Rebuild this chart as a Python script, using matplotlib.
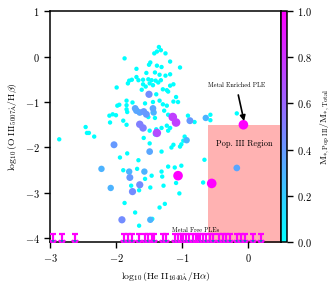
import numpy as np
import matplotlib
matplotlib.use('Agg')
import matplotlib.pyplot as plt

plt.rcParams['font.family'] = 'serif'
plt.rcParams['font.serif'] = ['cmr10']
plt.rcParams['mathtext.fontset'] = 'cm'
plt.rcParams['axes.formatter.use_mathtext'] = True
plt.rcParams['axes.unicode_minus'] = True

# log10(HeII 1640 / Halpha), log10(OIII 5007 / Hbeta), Pop III mass fraction
he2_ha = [-1.35, -1.42, -1.38, -1.32, -1.25, -1.87, -1.48, -1.50, -1.18, -1.03,
          -1.38, -1.31, -1.69, -1.54, -1.41, -1.34, -1.25, -1.18, -1.76, -1.69,
          -1.66, -1.59, -1.51, -1.46, -1.40, -1.36, -1.32, -1.82, -1.59, -1.55,
          -1.49, -1.44, -1.18, -1.13, -1.29, -1.23, -1.21, -1.09, -1.06, -1.61,
          -1.50, -1.39, -1.84, -1.84, -1.75, -1.56, -1.44, -1.34, -1.29, -1.23,
          -1.13, -1.71, -1.69, -1.64, -1.58, -1.54, -1.44, -1.43, -1.83, -1.51,
          -1.41, -1.27, -1.21, -1.14, -1.09, -0.91, -0.88, -0.81, -1.89, -1.84,
          -1.64, -1.59, -1.49, -1.39, -1.31, -1.23, -1.18, -1.21, -1.99, -1.80,
          -1.95, -1.84, -2.86, -2.46, -2.44, -2.41, -2.33, -2.10, -2.05, -2.00,
          -2.09, -1.98, -1.38, -1.41, -1.58, -1.49, -2.03, -1.49, -1.31, -1.83,
          -1.94, -1.66, -2.22, -1.89, -1.80, -1.79, -1.68, -1.57, -1.46, -1.31,
          -1.30, -1.56, -2.08, -1.64, -1.75, -1.77, -1.65, -1.48, -1.28, -1.87,
          -1.71, -1.34, -1.26, -1.91, -1.65, -1.48, -1.45, -0.64, -0.57, -0.57,
          -0.17, -0.96, -0.98, -1.01, -1.03, -0.93, -1.13, -1.16, -0.66, -1.21,
          -1.11, -1.01, -1.09, -0.68, -0.17, -1.04, -1.06, -0.55, -0.07]
o3_hb = [0.21, 0.07, 0.11, 0.14, 0.07, -0.04, -0.13, -0.18, -0.11, -0.24,
         -0.20, -0.23, -0.27, -0.36, -0.35, -0.40, -0.42, -0.39, -0.51, -0.45,
         -0.52, -0.51, -0.50, -0.52, -0.53, -0.57, -0.52, -0.59, -0.61, -0.66,
         -0.59, -0.63, -0.64, -0.61, -0.72, -0.74, -0.77, -0.89, -1.00, -0.73,
         -0.83, -0.83, -0.97, -1.07, -1.01, -1.03, -1.00, -0.97, -1.05, -1.08,
         -0.99, -1.14, -1.19, -1.23, -1.21, -1.27, -1.14, -1.23, -1.22, -1.33,
         -1.35, -1.19, -1.28, -1.33, -1.45, -1.30, -1.41, -1.44, -1.41, -1.50,
         -1.49, -1.57, -1.63, -1.60, -1.57, -1.52, -1.57, -1.63, -0.68, -0.53,
         -1.06, -1.16, -1.82, -1.55, -1.68, -1.68, -1.76, -1.30, -1.27, -1.29,
         -1.45, -1.08, -1.68, -1.71, -1.79, -1.91, -1.94, -2.09, -2.09, -2.13,
         -2.22, -2.28, -2.47, -2.50, -2.53, -2.66, -2.47, -2.53, -2.62, -2.53,
         -2.64, -2.69, -2.89, -2.82, -2.97, -2.84, -2.94, -2.88, -2.84, -3.22,
         -3.43, -3.32, -3.24, -3.59, -3.72, -3.59, -3.57, -1.35, -1.28, -1.40,
         -1.25, -1.76, -1.85, -1.93, -1.98, -1.84, -1.94, -2.00, -2.27, -2.42,
         -2.44, -2.40, -2.78, -2.77, -2.45, -3.01, -2.62, -2.79, -1.50]
pop3_frac = [0.0, 0.0, 0.0, 0.0, 0.0, 0.0, 0.0, 0.0, 0.0, 0.0,
             0.0, 0.0, 0.0, 0.0, 0.0, 0.0, 0.0, 0.0, 0.0, 0.0,
             0.0, 0.0, 0.0, 0.0, 0.0, 0.0, 0.0, 0.0, 0.0, 0.0,
             0.0, 0.0, 0.0, 0.0, 0.0, 0.0, 0.0, 0.0, 0.0, 0.0,
             0.45, 0.0, 0.0, 0.0, 0.0, 0.0, 0.0, 0.0, 0.0, 0.0,
             0.0, 0.35, 0.35, 0.35, 0.4, 0.4, 0.35, 0.3, 0.0, 0.0,
             0.0, 0.0, 0.0, 0.75, 0.75, 0.0, 0.4, 0.0, 0.0, 0.0,
             0.5, 0.5, 0.0, 0.0, 0.0, 0.0, 0.0, 0.0, 0.0, 0.0,
             0.0, 0.0, 0.0, 0.0, 0.0, 0.0, 0.0, 0.0, 0.0, 0.0,
             0.0, 0.0, 0.7, 0.0, 0.0, 0.0, 0.4, 0.35, 0.0, 0.0,
             0.0, 0.0, 0.3, 0.0, 0.3, 0.4, 0.0, 0.3, 0.0, 0.0,
             0.0, 0.0, 0.3, 0.45, 0.45, 0.0, 0.0, 0.0, 0.0, 0.0,
             0.0, 0.0, 0.0, 0.45, 0.0, 0.3, 0.0, 0.3, 0.0, 0.0,
             0.0, 0.0, 0.0, 0.0, 0.0, 0.3, 0.0, 0.0, 0.0, 0.0,
             0.0, 0.0, 0.0, 0.0, 0.35, 0.0, 1.0, 1.0, 1.0]

# metal free PLEs: only HeII measured, OIII is an upper limit
free_he2_ha = [-2.95, -2.82, -2.62, -1.88, -1.82, -1.75, -1.65, -1.56, -1.51, -1.45,
               -1.42, -1.29, -1.25, -1.11, -1.06, -1.02, -0.98, -0.94, -0.89, -0.83,
               -0.79, -0.76, -0.72, -0.68, -0.63, -0.58, -0.53, -0.44, -0.38, -0.33,
               -0.28, -0.17, -0.10, -0.05, 0.08, 0.19]
free_o3_limit = -4.0

x = np.array(he2_ha)
y = np.array(o3_hb)
c = np.array(pop3_frac)
order = np.argsort(c)

fig = plt.figure(figsize=(3.31, 2.92), dpi=100)
ax = fig.add_axes([0.151, 0.171, 0.698, 0.791])
cax = fig.add_axes([0.849, 0.171, 0.018, 0.791])

ax.fill_between([-0.6, 0.5], -4.2, -1.5, color='red', alpha=0.3, lw=0, zorder=1)

sc = ax.scatter(x[order], y[order], c=c[order], s=10 + 38 * c[order], cmap='cool',
                vmin=0, vmax=1, edgecolors='none', zorder=3)

# upper limit arrows
ax.errorbar(free_he2_ha, [free_o3_limit + 0.09] * len(free_he2_ha), yerr=0.12,
            uplims=True, fmt='none', ecolor='magenta', elinewidth=1.6,
            capsize=2.2, capthick=1.6, zorder=4)

ax.annotate('Metal Enriched PLE', xy=(-0.06, -1.42), xytext=(-0.18, -0.63),
            ha='center', va='center', fontsize=4.5,
            arrowprops=dict(arrowstyle='-|>', color='black', lw=1.2,
                            mutation_scale=8, shrinkA=3, shrinkB=0))
ax.text(-0.05, -1.91, 'Pop. III Region', ha='center', va='center', fontsize=6)
ax.text(-0.79, -3.81, 'Metal Free PLEs', ha='center', va='center', fontsize=4.5)

ax.set_xlim(-3, 0.5)
ax.set_ylim(-4.08, 1)
ax.set_xticks([-3, -2, -1, 0])
ax.set_yticks([1, 0, -1, -2, -3, -4])
ax.tick_params(labelsize=7.5, length=4, width=1)
for sp in ax.spines.values():
    sp.set_linewidth(1.1)
ax.set_xlabel(r'$\log_{10}(\mathrm{He\ II}_{1640\mathrm{\AA}}/\mathrm{H}\alpha)$', fontsize=7)
ax.set_ylabel(r'$\log_{10}(\mathrm{O\ III}_{5007\mathrm{\AA}}/\mathrm{H}\beta)$', fontsize=7)

cb = fig.colorbar(sc, cax=cax)
cb.set_ticks([0.0, 0.2, 0.4, 0.6, 0.8, 1.0])
cb.ax.tick_params(labelsize=7.5, length=4, width=1)
cb.outline.set_linewidth(1.1)
cb.set_label(r'$\mathrm{M}_{*,\mathrm{Pop\ III}}/\mathrm{M}_{*,\mathrm{Total}}$', fontsize=7)

fig.savefig('out.png', dpi=100)
